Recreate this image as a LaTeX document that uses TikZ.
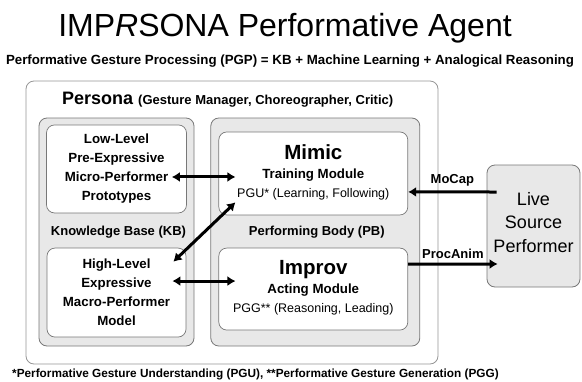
\documentclass[tikz,border=0pt]{standalone}
\usepackage{fontspec}
\setmainfont{Liberation Sans}
\usepackage{tikz}
\usetikzlibrary{%
	calc,%
	arrows.meta,%
	positioning,%
}
\definecolor{cgraybox}{RGB}{232, 232, 232}
\definecolor{cgrayline}{RGB}{120, 120, 120}
\definecolor{cgrayouter}{RGB}{150, 150, 150}
\newcommand{\fsz}[2]{\fontsize{#1}{#2}\selectfont}
\newcommand{\modname}[1]{\fsz{20.5}{22}\bfseries #1}
\newcommand{\modrole}[1]{\fsz{13.3}{19}\bfseries #1}
\tikzset{
	>={Latex[length=8pt,width=10pt]},%
	nodes={align=center},%
	outerbox/.style={%
			draw=cgrayouter,%
			fill=white,%
			rounded corners=8pt,%
			line width=0.8pt,%
			inner sep=0},%
	groupbox/.style={%
			draw=cgrayline,%
			fill=cgraybox,%
			rounded corners=8pt,%
			line width=0.8pt,%
			inner sep=0},%
	modbox/.style={%
			draw=cgrayline,%
			fill=white,%
			rounded corners=8pt,%
			line width=0.7pt,%
			inner sep=0},%
	kbtext/.style={font=\fsz{13.3}{19}\bfseries},%
	pbtext/.style={font=\fsz{12.5}{19}},%
	caption/.style={inner sep=0},%
	flow/.style={line width=3pt},%
	flowlabel/.style={%
			font=\fsz{13}{15}\bfseries,%
			inner sep=1pt},%
}

\begin{document}
\begin{tikzpicture}[x=1pt, y=-1pt]
	\useasboundingbox (0,0) rectangle (582,381);

	\node[caption, anchor=base] (title) at (285,36) {\fsz{32}{36}IMP\textit{R}SONA Performative Agent};
	\node[caption, anchor=base] (pgp) at (290,64.8) {\fsz{13.3}{16}\bfseries Performative Gesture Processing (PGP) = KB + Machine Learning + Analogical Reasoning};

	\node[outerbox, minimum width=412pt, minimum height=283pt] (persona) at (232,222.5) {};
	\node[caption, anchor=base west] (personalabel) at (62,104) {\bfseries\fsz{18}{20}Persona \fsz{13}{15}(Gesture Manager, Choreographer, Critic)};

	\node[groupbox, minimum width=155pt, minimum height=228pt] (kb) at (116.5,232) {};
	\node[groupbox, minimum width=209pt, minimum height=228pt] (pb) [right=16pt of kb] {};

	\node[modbox, kbtext, minimum width=140pt, minimum height=88pt] (ll) [below=7pt of kb.north] {Low-Level\\
		Pre-Expressive\\
		Micro-Performer\\
		Prototypes};
	\node[modbox, kbtext, minimum width=139pt, minimum height=89pt] (hl) [above=9pt of kb.south] {High-Level\\
		Expressive\\
		Macro-Performer\\
		Model};
	\node[caption, anchor=base] (kblabel) at ($(kb.center)+(2,3)$) {\fsz{13}{15}\bfseries Knowledge Base (KB)};

	\node[modbox, pbtext, minimum width=189pt, minimum height=83pt] (mimic) [below=14pt of pb.north, xshift=-2pt] {\begin{tabular}{@{}c@{}}
			\modname{Mimic}                 \\
			\modrole{Training Module}       \\
			PGU* (Learning, Following)      \\
		\end{tabular}};
	\node[modbox, pbtext, minimum width=189pt, minimum height=82pt] (improv) [above=16pt of pb.south, xshift=-2pt] {\begin{tabular}{@{}c@{}}
			\modname{Improv}                \\
			\modrole{Acting Module}         \\
			PGG** (Reasoning, Leading)      \\
		\end{tabular}};
	\node[caption, anchor=base] (pblabel) at ($(pb.center)+(1.5,3)$) {\fsz{13}{15}\bfseries Performing Body (PB)};

	\node[groupbox, font=\fsz{18}{23.5}, minimum width=93pt, minimum height=122pt, text depth=8pt] (live) at (533.5,226) {Live\\
		Source\\
		Performer};

	\node[caption, anchor=base west] (note) at (12,377) {\fsz{11.8}{14}\bfseries *Performative Gesture Understanding (PGU), **Performative Gesture Generation (PGG)};

	\draw[flow, <->] ($(ll.east)+(-15,8)$) to ($(mimic.west)+(17,3.5)$);
	\draw[flow, <->] ($(hl.north east)+(-13,14)$) to ($(mimic.south west)+(17,-13)$);
	\draw[flow, <->] ($(hl.east)+(-14,-11.5)$) to ($(improv.west)+(17,-8)$);
	\draw[flow, ->] ($(live.west)+(10,-34)$) to node[flowlabel, above=3pt] (mocap) {MoCap} ($(mimic.east)+(0,18.5)$);
	\draw[flow, ->] ($(improv.east)+(0,-25)$) to node[flowlabel, above=3pt] (procanim) {ProcAnim} ($(live.west)+(11,38)$);
\end{tikzpicture}
\end{document}
